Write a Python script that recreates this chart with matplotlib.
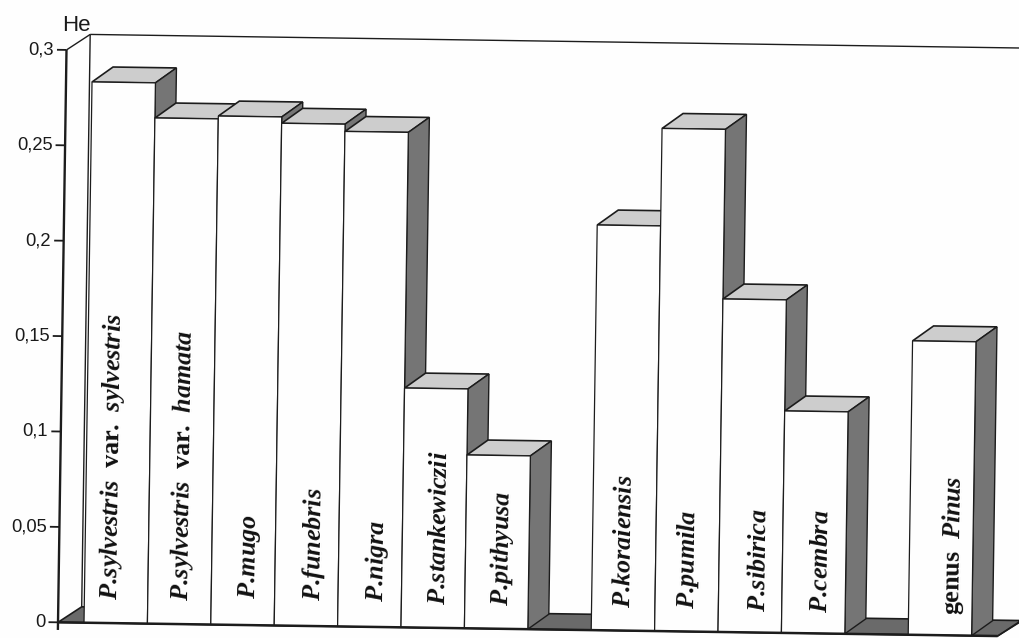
import matplotlib
matplotlib.use("Agg")
import matplotlib.pyplot as plt
from matplotlib.patches import Polygon
from matplotlib.transforms import Affine2D

plt.rcParams["mathtext.fontset"] = "custom"
plt.rcParams["mathtext.it"] = "Liberation Serif:italic:bold"
plt.rcParams["mathtext.rm"] = "Liberation Serif:bold"
plt.rcParams["mathtext.bf"] = "Liberation Serif:bold"

# slot 7 and 12 stay empty, they separate the groups
slots = [0, 1, 2, 3, 4, 5, 6, 8, 9, 10, 11, 13]
he_values = [0.2834, 0.2650, 0.2665, 0.2632, 0.2594, 0.1254, 0.0908,
             0.2123, 0.2634, 0.1745, 0.1163, 0.1540]
# \! takes back the space mathtext puts after the dot
bar_labels = [
    r"$\mathit{P.\!sylvestris}$  var.  $\mathit{sylvestris}$",
    r"$\mathit{P.\!sylvestris}$  var.  $\mathit{hamata}$",
    r"$\mathit{P.\!mugo}$",
    r"$\mathit{P.\!funebris}$",
    r"$\mathit{P.\!nigra}$",
    r"$\mathit{P.\!stankewiczii}$",
    r"$\mathit{P.\!pithyusa}$",
    r"$\mathit{P.\!koraiensis}$",
    r"$\mathit{P.\!pumila}$",
    r"$\mathit{P.\!sibirica}$",
    r"$\mathit{P.\!cembra}$",
    r"genus  $\mathit{Pinus}$",
]
y_ticks = [0, 0.05, 0.1, 0.15, 0.2, 0.25, 0.3]
y_tick_labels = ["0", "0,05", "0,1", "0,15", "0,2", "0,25", "0,3"]

# page is a slightly rotated scan: (slot, He) -> pixel
SLOT_W, SLOT_DROP = 63.4, 0.926
HE_DX, HE_DY = 28.3, -1908.0
ORIGIN = (84.0, 622.7)
to_page = Affine2D.from_values(SLOT_W, SLOT_DROP, HE_DX, HE_DY, *ORIGIN)

BAR_DS, BAR_DH = 0.328, 0.0080      # bar depth
WALL_DS, WALL_DH = 0.37, 0.0083     # floor / wall depth
AXIS_S = -0.41
END_S = 14.41
INK = "#1c1c1c"
TOP_C, SIDE_C, FLOOR_C = "#cdcdcd", "#757575", "#6a6a6a"

# small label shifts (slots, He)
label_ds = [-0.08, 0.03, 0.09, 0.12, 0.11, 0.09, 0.08, 0.01, 0.01, 0.14, 0.11, 0.19]
label_he = [0.012, 0.012, 0.014, 0.013, 0.013, 0.012, 0.012, 0.012, 0.012, 0.011, 0.011, 0.011]

fig = plt.figure(figsize=(10.2, 6.38), dpi=100, facecolor="#fefefe")
ax = fig.add_axes([0, 0, 1, 1])
ax.set_axis_off()
tf = to_page + ax.transData


def poly(pts, fc, lw=1.0, z=1):
    ax.add_patch(Polygon(pts, closed=True, facecolor=fc, edgecolor=INK, linewidth=lw,
                         transform=tf, zorder=z, joinstyle="miter"))


def line(xs, ys, lw=1.2, z=1):
    ax.plot(xs, ys, color=INK, linewidth=lw, transform=tf, zorder=z,
            solid_capstyle="butt", clip_on=True)


# floor and back wall
poly([(AXIS_S, 0), (END_S, 0), (END_S + WALL_DS, WALL_DH), (AXIS_S + WALL_DS, WALL_DH)],
     FLOOR_C, lw=1.2, z=1)
line([AXIS_S + WALL_DS, AXIS_S + WALL_DS], [WALL_DH, 0.3 + WALL_DH], lw=1.0)
line([AXIS_S + WALL_DS, END_S + WALL_DS], [0.3 + WALL_DH, 0.3 + WALL_DH], lw=1.0)
line([AXIS_S, AXIS_S + WALL_DS], [0.3, 0.3 + WALL_DH], lw=1.0)

# bars, left to right so the next front hides the previous side
for i, (s, h) in enumerate(zip(slots, he_values)):
    z = 3 + i
    poly([(s, h), (s + 1, h), (s + 1 + BAR_DS, h + BAR_DH), (s + BAR_DS, h + BAR_DH)],
         TOP_C, lw=1.2, z=z)
    poly([(s + 1, 0), (s + 1 + BAR_DS, BAR_DH), (s + 1 + BAR_DS, h + BAR_DH), (s + 1, h)],
         SIDE_C, lw=1.0, z=z)
    ax.bar(s, h, width=1, align="edge", facecolor="#fefefe", edgecolor=INK,
           linewidth=0.9, transform=tf, zorder=z + 0.5)
    ax.text(s + 0.5 + label_ds[i], label_he[i], bar_labels[i], transform=tf,
            rotation=89.2, rotation_mode="anchor", ha="left", va="center",
            family="Liberation Serif", weight="bold", fontsize=18.6, color="#111111",
            zorder=40)

# baseline and value axis
line([AXIS_S, END_S], [0, 0], lw=1.8, z=30)
line([END_S, END_S + WALL_DS + 0.02], [0, WALL_DH], lw=1.0, z=30)
line([AXIS_S, AXIS_S], [-0.004, 0.3], lw=1.7, z=30)
for t, lab in zip(y_ticks, y_tick_labels):
    line([AXIS_S - 0.15, AXIS_S], [t, t], lw=1.3, z=30)
    ax.text(AXIS_S - 0.2, t, lab, transform=tf, ha="right", va="center",
            family="Liberation Sans", fontsize=13.2, color="#1a1a1a", zorder=30)
ax.text(AXIS_S - 0.08, 0.3 + 0.0075, "He", transform=tf, ha="left", va="bottom",
        family="Liberation Sans", fontsize=16, color="#1a1a1a", zorder=30)

ax.set_xlim(0, 1020)
ax.set_ylim(638, 0)

fig.savefig("out.png", dpi=100, facecolor=fig.get_facecolor())
